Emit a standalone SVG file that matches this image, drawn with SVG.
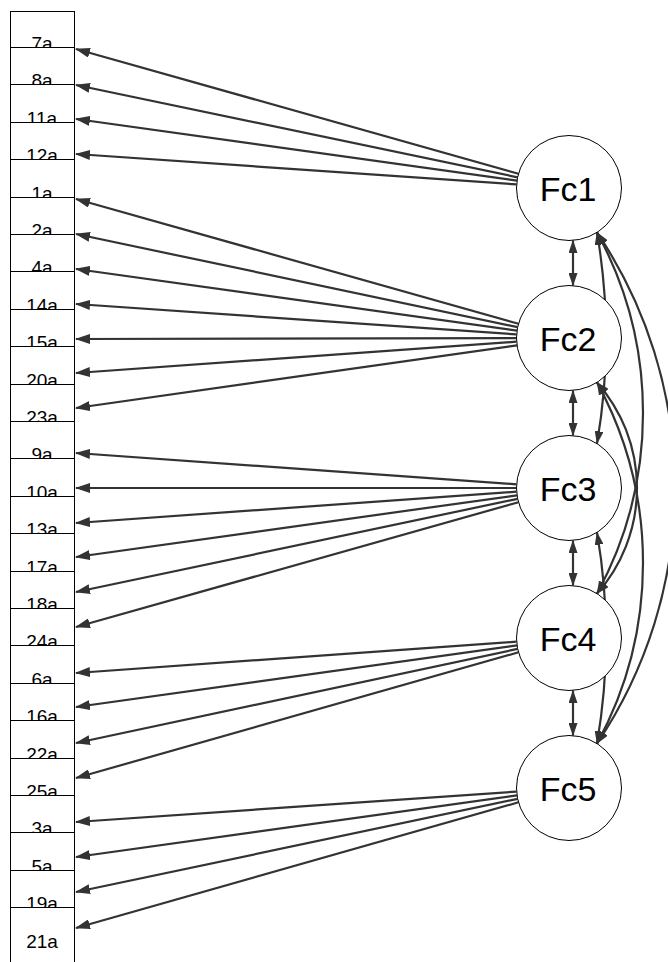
<svg xmlns="http://www.w3.org/2000/svg" width="668" height="962" viewBox="0 0 668 962">
<defs>
<marker id="ah" markerUnits="userSpaceOnUse" viewBox="0 0 15 10" refX="14" refY="5" markerWidth="15" markerHeight="10" orient="auto-start-reverse"><path d="M0,0 L15,5 L0,10 z" fill="#333"/></marker>
<marker id="ah2" markerUnits="userSpaceOnUse" viewBox="0 0 13 9" refX="12.5" refY="4.5" markerWidth="13" markerHeight="9" orient="auto-start-reverse"><path d="M0,0 L13,4.5 L0,9 z" fill="#333"/></marker>
<style>
.obs rect{fill:#fff;stroke:#000;stroke-width:1;shape-rendering:crispEdges}
.obs text{font-family:"Liberation Sans",Arial,sans-serif;font-size:19px;text-anchor:middle;fill:#000}
.lat circle{fill:#fff;stroke:#000;stroke-width:1}
.lat text{font-family:"Liberation Sans",Arial,sans-serif;font-size:34px;text-anchor:middle;fill:#000}
.ld{stroke:#333;stroke-width:2.2;fill:none;marker-end:url(#ah)}
.cv{stroke:#333;stroke-width:2.2;fill:none;marker-start:url(#ah2);marker-end:url(#ah2)}
</style>
</defs>
<rect width="668" height="962" fill="#fff"/>
<g id="observed">
<g id="v7a" class="obs"><rect x="10" y="11" width="64" height="36.4"/><text x="42" y="49.9">7a</text></g>
<g id="v8a" class="obs"><rect x="10" y="47.4" width="64" height="37.4"/><text x="42" y="87.3">8a</text></g>
<g id="v11a" class="obs"><rect x="10" y="84.8" width="64" height="37.4"/><text x="42" y="124.7">11a</text></g>
<g id="v12a" class="obs"><rect x="10" y="122.2" width="64" height="37.4"/><text x="42" y="162.1">12a</text></g>
<g id="v1a" class="obs"><rect x="10" y="159.6" width="64" height="37.4"/><text x="42" y="199.5">1a</text></g>
<g id="v2a" class="obs"><rect x="10" y="197" width="64" height="37.4"/><text x="42" y="236.9">2a</text></g>
<g id="v4a" class="obs"><rect x="10" y="234.4" width="64" height="37.4"/><text x="42" y="274.3">4a</text></g>
<g id="v14a" class="obs"><rect x="10" y="271.8" width="64" height="37.4"/><text x="42" y="311.7">14a</text></g>
<g id="v15a" class="obs"><rect x="10" y="309.2" width="64" height="37.4"/><text x="42" y="349.1">15a</text></g>
<g id="v20a" class="obs"><rect x="10" y="346.6" width="64" height="37.4"/><text x="42" y="386.5">20a</text></g>
<g id="v23a" class="obs"><rect x="10" y="384" width="64" height="37.4"/><text x="42" y="423.9">23a</text></g>
<g id="v9a" class="obs"><rect x="10" y="421.4" width="64" height="37.4"/><text x="42" y="461.3">9a</text></g>
<g id="v10a" class="obs"><rect x="10" y="458.8" width="64" height="37.4"/><text x="42" y="498.7">10a</text></g>
<g id="v13a" class="obs"><rect x="10" y="496.2" width="64" height="37.4"/><text x="42" y="536.1">13a</text></g>
<g id="v17a" class="obs"><rect x="10" y="533.6" width="64" height="37.4"/><text x="42" y="573.5">17a</text></g>
<g id="v18a" class="obs"><rect x="10" y="571" width="64" height="37.4"/><text x="42" y="610.9">18a</text></g>
<g id="v24a" class="obs"><rect x="10" y="608.4" width="64" height="37.4"/><text x="42" y="648.3">24a</text></g>
<g id="v6a" class="obs"><rect x="10" y="645.8" width="64" height="37.4"/><text x="42" y="685.7">6a</text></g>
<g id="v16a" class="obs"><rect x="10" y="683.2" width="64" height="37.4"/><text x="42" y="723.1">16a</text></g>
<g id="v22a" class="obs"><rect x="10" y="720.6" width="64" height="37.4"/><text x="42" y="760.5">22a</text></g>
<g id="v25a" class="obs"><rect x="10" y="758" width="64" height="37.4"/><text x="42" y="797.9">25a</text></g>
<g id="v3a" class="obs"><rect x="10" y="795.4" width="64" height="37.4"/><text x="42" y="835.3">3a</text></g>
<g id="v5a" class="obs"><rect x="10" y="832.8" width="64" height="37.4"/><text x="42" y="872.7">5a</text></g>
<g id="v19a" class="obs"><rect x="10" y="870.2" width="64" height="37.4"/><text x="42" y="910.1">19a</text></g>
<g id="v21a" class="obs"><rect x="10" y="907.6" width="64" height="70"/><text x="42" y="947.5">21a</text></g>
</g>
<g id="connectors">
<path class="ld" d="M518.5,173.8 L76,49"/>
<path class="ld" d="M517.6,177.3 L76,85"/>
<path class="ld" d="M517,180.7 L76,119"/>
<path class="ld" d="M516.6,184.4 L76,154"/>
<path class="ld" d="M518.5,323.8 L76,199"/>
<path class="ld" d="M517.6,327.2 L76,234"/>
<path class="ld" d="M517,330.7 L76,269"/>
<path class="ld" d="M516.6,334.4 L76,304"/>
<path class="ld" d="M516.5,338.1 L76,339"/>
<path class="ld" d="M516.6,341.7 L76,373"/>
<path class="ld" d="M517,345.4 L76,408"/>
<path class="ld" d="M516.6,484.3 L76,453"/>
<path class="ld" d="M516.5,488 L76,488"/>
<path class="ld" d="M516.6,491.7 L76,523"/>
<path class="ld" d="M517,495.3 L76,557"/>
<path class="ld" d="M517.6,498.8 L76,592"/>
<path class="ld" d="M518.5,502.2 L76,627"/>
<path class="ld" d="M516.6,641.7 L76,673"/>
<path class="ld" d="M517,645.3 L76,707"/>
<path class="ld" d="M517.6,648.9 L76,743"/>
<path class="ld" d="M518.5,652.3 L76,778"/>
<path class="ld" d="M516.6,791.6 L76,822"/>
<path class="ld" d="M517,795.3 L76,857"/>
<path class="ld" d="M517.6,798.8 L76,892"/>
<path class="ld" d="M518.5,802.3 L76,928"/>
<path class="cv" d="M573,240.4 L573,285.6"/>
<path class="cv" d="M573,390.4 L573,435.6"/>
<path class="cv" d="M573,540.4 L573,585.6"/>
<path class="cv" d="M573,690.4 L573,735.6"/>
<path class="cv" d="M597,232.4 A624,624 0 0 1 597,443.6"/>
<path class="cv" d="M597,532.4 A624,624 0 0 1 597,743.6"/>
<path class="cv" d="M597,382.4 A159.4,159.4 0 0 1 597,593.6"/>
<path class="cv" d="M597,232.4 A377.5,377.5 0 0 1 597,593.6"/>
<path class="cv" d="M597,382.4 A377.5,377.5 0 0 1 597,743.6"/>
<path class="cv" d="M597,232.4 A457.8,457.8 0 0 1 597,743.6"/>
</g>
<g id="Fc1" class="lat"><circle cx="569" cy="188" r="52.5"/><text x="568" y="201">Fc1</text></g>
<g id="Fc2" class="lat"><circle cx="569" cy="338" r="52.5"/><text x="568" y="351">Fc2</text></g>
<g id="Fc3" class="lat"><circle cx="569" cy="488" r="52.5"/><text x="568" y="501">Fc3</text></g>
<g id="Fc4" class="lat"><circle cx="569" cy="638" r="52.5"/><text x="568" y="651">Fc4</text></g>
<g id="Fc5" class="lat"><circle cx="569" cy="788" r="52.5"/><text x="568" y="801">Fc5</text></g>
</svg>
